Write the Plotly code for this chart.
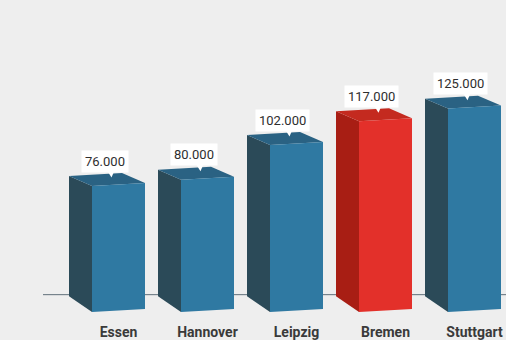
import plotly.graph_objects as go

# Data
CITIES = ["Essen", "Hannover", "Leipzig", "Bremen", "Stuttgart"]
VALUES = [76000, 80000, 102000, 117000, 125000]
HIGHLIGHT = "Bremen"

# Face colours: (front, side, top)
BLUE = ("#2f79a2", "#2b4a58", "#2a6283")
RED = ("#e3302a", "#a81e14", "#c42a1f")

# Canvas / scale set-up (pixels)
W, H = 506, 340
MARGIN_B = 16
PLOT_H = H - MARGIN_B
PX_PER_CAT = 89.0          # horizontal distance between bars
FIRST_CAT_PX = 118.5       # centre of first front face
ZERO_PX = 298.0            # pixel row of value 0 on the back plane
PX_PER_UNIT = 1.59 / 1000  # vertical pixels per value unit


def dx(px):
    return px / PX_PER_CAT


def dy(px):
    return px / PX_PER_UNIT


# Box geometry in pixels
FRONT_W = 53
DEPTH_X = 23
TOP_DROP = 10      # front top sits below back top
BOTTOM_DROP = 16   # front bottom sits below back bottom
TILT = 3           # right edges rise slightly

fig = go.Figure()


def poly(xs, ys, color):
    fig.add_trace(go.Scatter(
        x=xs + [xs[0]], y=ys + [ys[0]], mode="lines", fill="toself",
        fillcolor=color, line=dict(width=0, color=color),
        hoverinfo="skip", showlegend=False))


annotations = []
for i, (city, v) in enumerate(zip(CITIES, VALUES)):
    front, side, top = RED if city == HIGHLIGHT else BLUE
    fl = i - dx(FRONT_W / 2)
    fr = i + dx(FRONT_W / 2)
    bl = fl - dx(DEPTH_X)
    br = fr - dx(DEPTH_X)

    back_top_l = v
    back_top_r = v + dy(TILT)
    front_top_l = v - dy(TOP_DROP)
    front_top_r = front_top_l + dy(TILT)
    back_bot_l = 0
    front_bot_l = -dy(BOTTOM_DROP)
    front_bot_r = front_bot_l + dy(TILT)

    # left side face
    poly([bl, fl, fl, bl], [back_top_l, front_top_l, front_bot_l, back_bot_l], side)
    # top face
    poly([bl, br, fr, fl], [back_top_l, back_top_r, front_top_r, front_top_l], top)
    # front face
    poly([fl, fr, fr, fl], [front_top_l, front_top_r, front_bot_r, front_bot_l], front)

    # value callout
    lx = i - dx(14)
    ly = v + dy(15)
    px_ = lx + dx(6)
    poly([px_ - dx(5), px_ + dx(5), px_ + dx(1)],
         [v + dy(8), v + dy(8), v - dy(1.5)], "#ffffff")
    annotations.append(dict(
        x=lx, y=ly, xref="x", yref="y", showarrow=False,
        text=f"{v:,}".replace(",", "."),
        font=dict(family="Roboto", size=13, color="#2e2e2e"),
        bgcolor="#ffffff", borderpad=3, xanchor="center", yanchor="middle"))

x_min = -FIRST_CAT_PX / PX_PER_CAT
x_max = (W - FIRST_CAT_PX) / PX_PER_CAT
y_max = dy(ZERO_PX)
y_min = -dy(PLOT_H - ZERO_PX)

fig.update_layout(
    width=W, height=H,
    margin=dict(l=0, r=0, t=0, b=MARGIN_B),
    paper_bgcolor="#eeeeee", plot_bgcolor="#eeeeee",
    showlegend=False,
    annotations=annotations,
    shapes=[dict(type="line", xref="x", yref="y", layer="below",
                 x0=x_min + dx(43), x1=x_max, y0=dy(1.5), y1=dy(1.5),
                 line=dict(color="#5f6f7a", width=1))],
    xaxis=dict(range=[x_min, x_max], tickvals=list(range(len(CITIES))),
               ticktext=CITIES, showgrid=False, zeroline=False,
               showline=False, ticks="", fixedrange=True,
               tickfont=dict(family="Roboto", size=14, color="#3a3a3a",
                             weight="bold")),
    yaxis=dict(range=[y_min, y_max], showgrid=False, zeroline=False,
               showline=False, showticklabels=False, fixedrange=True),
)

fig.write_html("out.html", config={"displayModeBar": False})
